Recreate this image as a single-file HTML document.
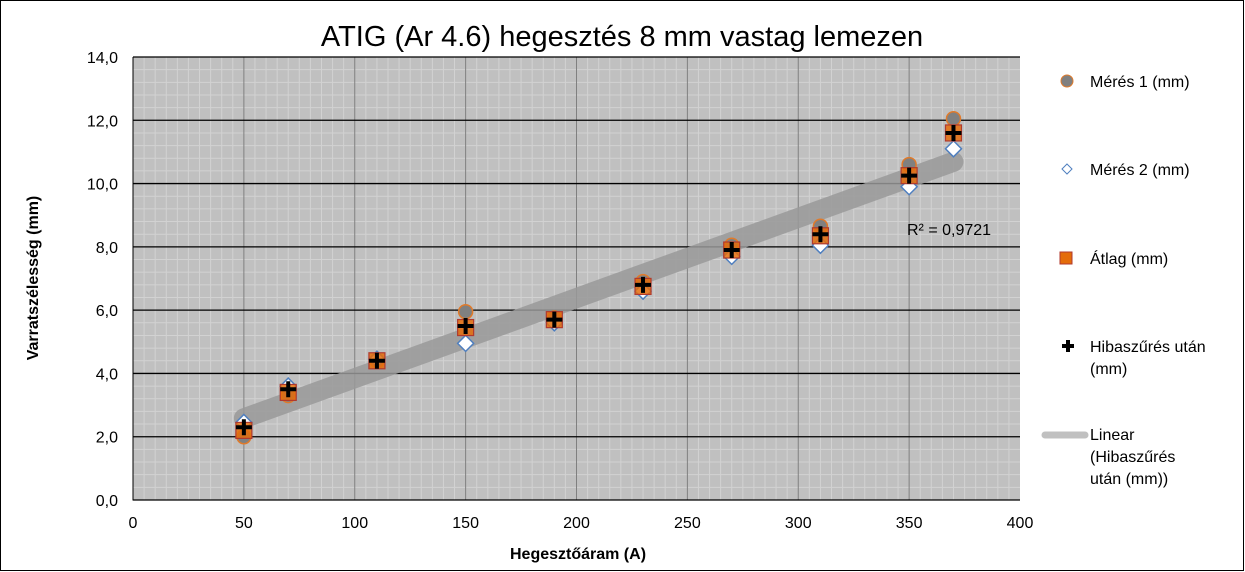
<!DOCTYPE html>
<html><head><meta charset="utf-8"><style>
body{margin:0;background:#fff;}
svg{display:block;font-family:"Liberation Sans",Arial,sans-serif;}
</style></head><body>
<svg id="chart" width="1245" height="572">
<rect x="0.5" y="0.5" width="1243" height="570" fill="#fff" stroke="#000"/>
<text x="622" y="46" font-size="29" text-anchor="middle">ATIG (Ar 4.6) hegesztés  8 mm vastag  lemezen</text>
<rect x="133" y="57" width="887" height="443" fill="#c0c0c0"/>
<g id="grid"></g><g id="axes"></g><g id="trend"></g><g id="marks"></g>
<text x="907" y="235" font-size="16">R² = 0,9721</text>
<text x="578" y="559" font-size="16" font-weight="bold" text-anchor="middle">Hegesztőáram (A)</text>
<text transform="translate(38,278) rotate(-90)" font-size="16" font-weight="bold" text-anchor="middle">Varratszélesség (mm)</text>
<g font-size="16">
<circle cx="1067" cy="81" r="6" fill="#808080" stroke="#e07a2a"/>
<text x="1090" y="87">Mérés 1 (mm)</text>
<path d="M1067 164 l5 5 l-5 5 l-5 -5z" fill="#fff" stroke="#4f7fbf"/>
<text x="1090" y="175">Mérés 2 (mm)</text>
<rect x="1060" y="252" width="12" height="12" fill="#e46c0a" stroke="#b03a2e"/>
<text x="1090" y="264">Átlag (mm)</text>
<path d="M1068 340v12M1062 346h12" stroke="#000" stroke-width="4"/>
<text x="1090" y="352">Hibaszűrés után</text>
<text x="1090" y="374">(mm)</text>
<line x1="1045" y1="435" x2="1085" y2="435" stroke="#c0c0c0" stroke-width="7" stroke-linecap="round"/>
<text x="1090" y="440">Linear</text>
<text x="1090" y="462">(Hibaszűrés</text>
<text x="1090" y="484">után (mm))</text>
</g>
</svg>
<script>
const xCats=[50,70,110,150,190,230,270,310,350,370];
const meres1=[2.0,3.3,4.4,5.95,5.75,6.9,8.05,8.65,10.6,12.05];
const meres2=[2.45,3.6,4.45,4.95,5.6,6.6,7.7,8.05,9.9,11.1];
const atlag=[2.2,3.4,4.4,5.45,5.7,6.75,7.9,8.35,10.25,11.6];
const hiba=[2.3,3.5,4.4,5.5,5.7,6.8,7.9,8.4,10.25,11.6];
const xTicks=[0,50,100,150,200,250,300,350,400];
const yTicks=[0,2,4,6,8,10,12,14];
const yTickLabels=["0,0","2,0","4,0","6,0","8,0","10,0","12,0","14,0"];
const NS="http://www.w3.org/2000/svg";
const X=v=>133+v*(887/400), Y=v=>500-v*(443/14);
function mk(t,a,p){const e=document.createElementNS(NS,t);for(const k in a)e.setAttribute(k,a[k]);p.appendChild(e);return e;}
const grid=document.getElementById('grid'),axes=document.getElementById('axes'),trend=document.getElementById('trend'),marks=document.getElementById('marks');
for(let v=5;v<400;v+=5){if(v%50==0)continue;const l=mk('line',{x1:X(v),x2:X(v),y1:57,y2:500,stroke:'#d2d2d2','stroke-width':1},grid);

}
for(let v=0.4;v<14;v+=0.4){if(Math.abs(v/2-Math.round(v/2))<0.01)continue;const l=mk('line',{x1:133,x2:1020,y1:Y(v),y2:Y(v),stroke:'#d2d2d2','stroke-width':1},grid);

}
xTicks.forEach(v=>{if(v>0&&v<400){const l=mk('line',{x1:X(v),x2:X(v),y1:57,y2:500,stroke:'#808080','stroke-width':1},grid);

}
const t=mk('text',{x:X(v),y:528,'font-size':16,'text-anchor':'middle'},axes);t.textContent=v;

});
yTicks.forEach((v,i)=>{const l=mk('line',{x1:133,x2:1020,y1:Y(v),y2:Y(v),stroke:'#000','stroke-width':1.3},grid);


const t=mk('text',{x:118,y:Y(v)+6,'font-size':16,'text-anchor':'end'},axes);t.textContent=yTickLabels[i];

});
const ax=mk('path',{d:`M133 57V500H1020`,stroke:'#000',fill:'none'},axes);


// linear regression on hiba
const n=xCats.length,mx=xCats.reduce((a,b)=>a+b)/n,my=hiba.reduce((a,b)=>a+b)/n;
let sxy=0,sxx=0;xCats.forEach((x,i)=>{sxy+=(x-mx)*(hiba[i]-my);sxx+=(x-mx)**2;});
const b=sxy/sxx,a=my-b*mx,x0=xCats[0],x1=xCats[n-1];
const tl=mk('line',{x1:X(x0),y1:Y(a+b*x0),x2:X(x1),y2:Y(a+b*x1),stroke:'#999','stroke-width':20,'stroke-linecap':'round','stroke-opacity':0.85},trend);


xCats.forEach((x,i)=>{
const c=mk('circle',{cx:X(x),cy:Y(meres1[i]),r:7,fill:'#808080',stroke:'#e07a2a','stroke-width':1.5},marks);


const px=X(x),py=Y(meres2[i]);
const d=mk('path',{d:`M${px} ${py-8}l8 8l-8 8l-8 -8z`,fill:'#fff',stroke:'#4f7fbf','stroke-width':1.5},marks);


const r=mk('rect',{x:X(x)-8,y:Y(atlag[i])-8,width:16,height:16,fill:'#e46c0a',stroke:'#b03a2e','stroke-width':1.2,'fill-opacity':0.85},marks);


const hx=X(x),hy=Y(hiba[i]);
const p=mk('path',{d:`M${hx} ${hy-8}v16M${hx-8} ${hy}h16`,stroke:'#000','stroke-width':4},marks);


});
</script>
</body></html>
